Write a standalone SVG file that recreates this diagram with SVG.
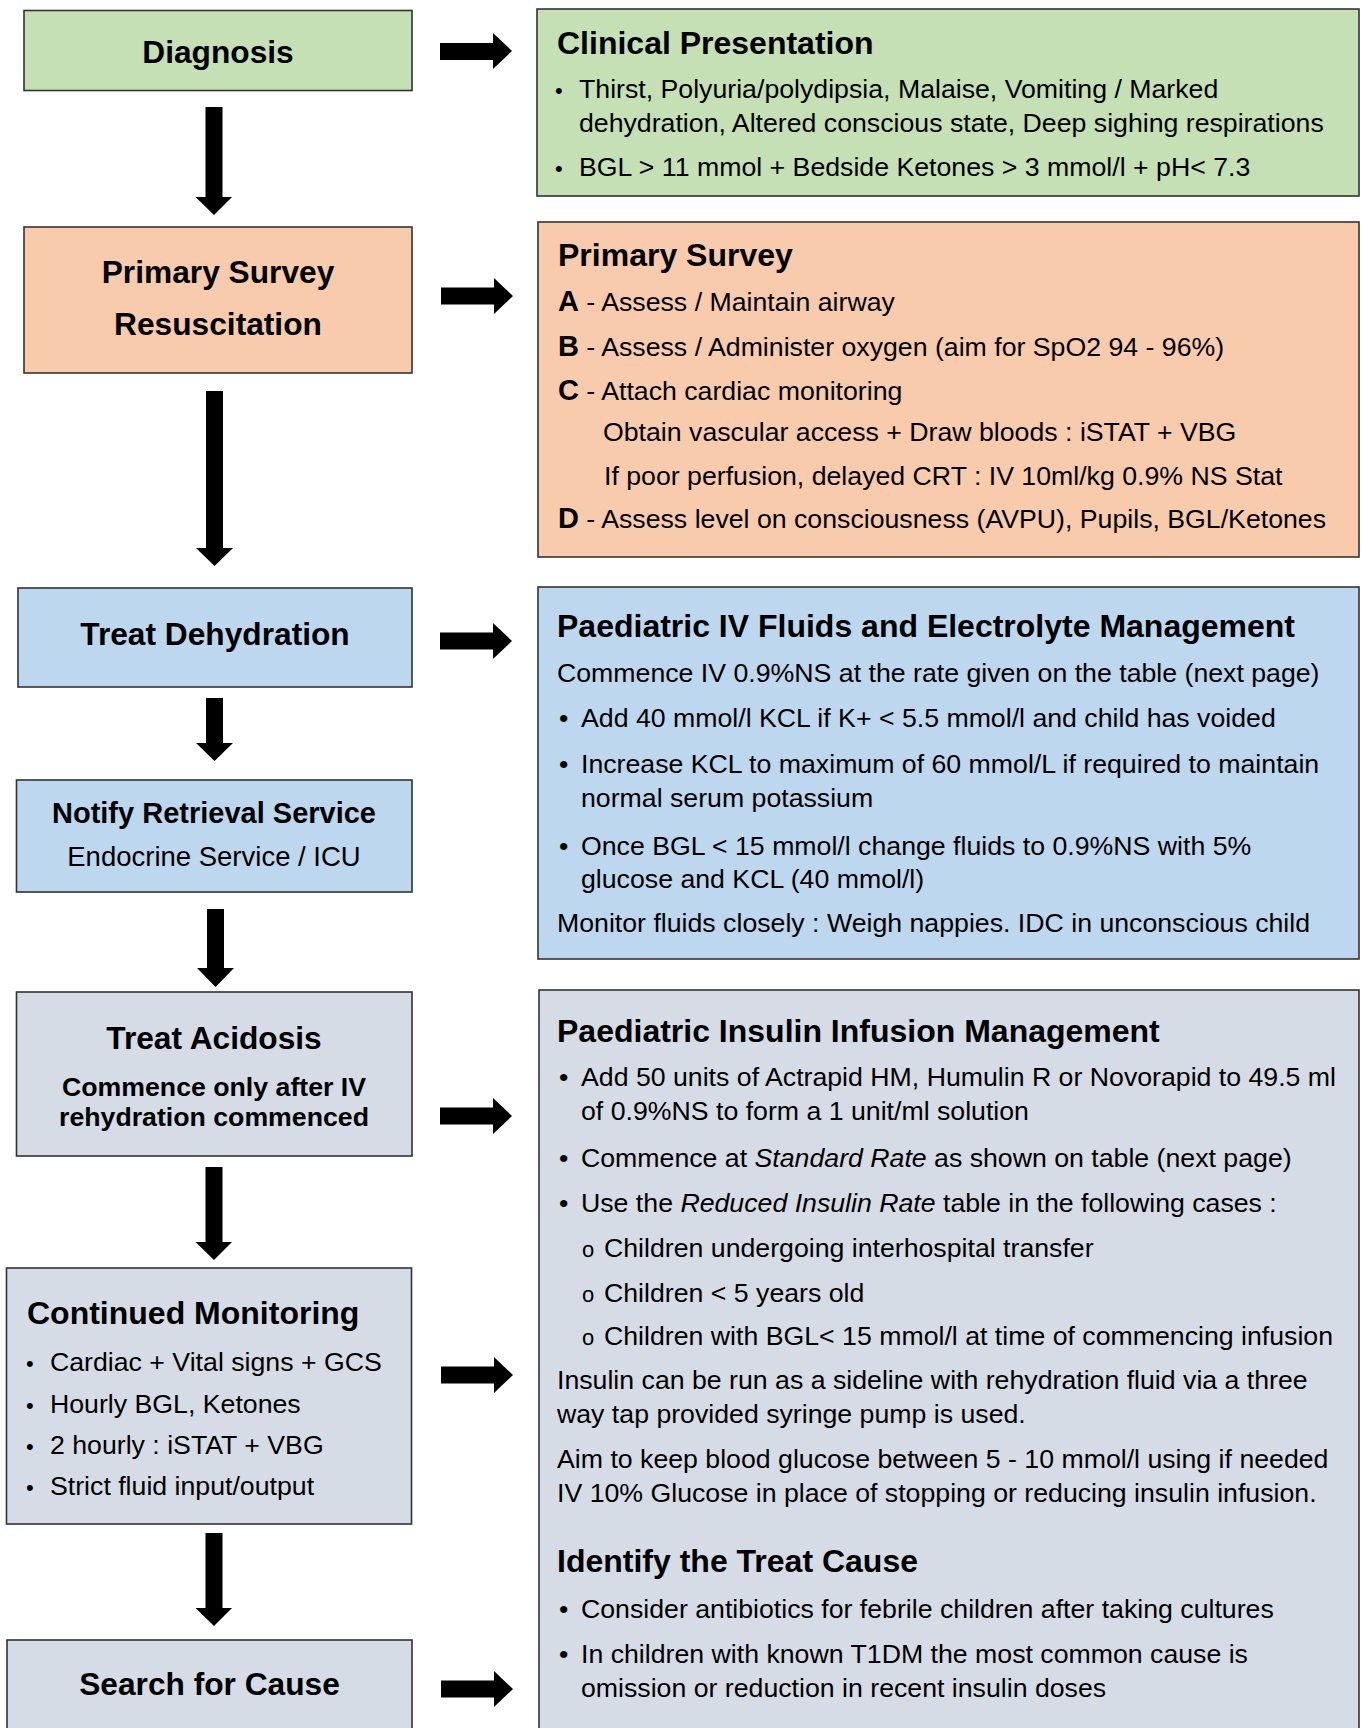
<svg xmlns="http://www.w3.org/2000/svg" width="1363" height="1728" viewBox="0 0 1363 1728">
<style>
text{font-family:"Liberation Sans",Arial,Helvetica,sans-serif;fill:#000}
.box{stroke:#333;stroke-width:1.6}
.green{fill:#c5e0b4}.orange{fill:#f8cbad}.blue{fill:#bdd7ee}.grey{fill:#d6dce5}
.h{font-size:32px;font-weight:bold}
.hc{font-size:31.7px;font-weight:bold;text-anchor:middle}
.s{font-size:26.7px;font-weight:bold;text-anchor:middle}
.b{font-size:26.7px}
.bl{font-size:29px;font-weight:bold}
.dot{font-size:22px}
.bul{font-size:26.7px}
.o{font-size:22px}
.arr{fill:#000}
</style>
<rect width="1363" height="1728" fill="#fff"/>

<g id="connectors">
<polygon class="arr" points="205.5,107 222.5,107 222.5,197 232,197 214,215 195.5,197 205.5,197"/>
<polygon class="arr" points="206,391 223,391 223,548 233,548 214.5,566 196,548 206,548"/>
<polygon class="arr" points="206,698 223,698 223,743 233,743 214.5,761 196,743 206,743"/>
<polygon class="arr" points="207,909 224,909 224,968 234,968 215.5,987 197,968 207,968"/>
<polygon class="arr" points="205.5,1167 222.5,1167 222.5,1242 232,1242 214,1260 195.5,1242 205.5,1242"/>
<polygon class="arr" points="205.5,1533 222.5,1533 222.5,1608 232,1608 214,1626 195.5,1608 205.5,1608"/>
<polygon class="arr" points="440,43 493,43 493,33 512,51 493,69 493,60 440,60"/>
<polygon class="arr" points="441,287.5 494,287.5 494,278 513,296 494,314 494,304.5 441,304.5"/>
<polygon class="arr" points="440,632.5 493,632.5 493,623 512,641 493,659 493,649.5 440,649.5"/>
<polygon class="arr" points="440,1107.5 493,1107.5 493,1098 512,1116 493,1134 493,1124.5 440,1124.5"/>
<polygon class="arr" points="441,1366.5 494,1366.5 494,1357 513,1375 494,1393 494,1383.5 441,1383.5"/>
<polygon class="arr" points="441,1680.5 494,1680.5 494,1671 513,1689 494,1707 494,1697.5 441,1697.5"/>
</g>

<g id="diagnosis">
<rect class="box green" x="24" y="10.5" width="388" height="80"/>
<text class="hc" x="218" y="63">Diagnosis</text>
</g>

<g id="primary-survey-resuscitation">
<rect class="box orange" x="24" y="227" width="388" height="146"/>
<text class="hc" x="218" y="283">Primary Survey</text>
<text class="hc" x="218" y="335">Resuscitation</text>
</g>

<g id="treat-dehydration">
<rect class="box blue" x="18" y="588" width="394" height="99"/>
<text class="hc" x="215" y="645">Treat Dehydration</text>
</g>

<g id="notify-retrieval">
<rect class="box blue" x="16.5" y="780" width="395.5" height="112"/>
<text x="214" y="823" style="font-size:29px;font-weight:bold;text-anchor:middle">Notify Retrieval Service</text>
<text x="214" y="866" style="font-size:27.5px;text-anchor:middle">Endocrine Service / ICU</text>
</g>

<g id="treat-acidosis">
<rect class="box grey" x="16.5" y="992" width="395.5" height="164"/>
<text class="hc" x="214" y="1049">Treat Acidosis</text>
<text class="s" x="214" y="1096">Commence only after IV</text>
<text class="s" x="214" y="1126">rehydration commenced</text>
</g>

<g id="continued-monitoring">
<rect class="box grey" x="6.5" y="1268" width="405" height="256"/>
<text class="h" x="27" y="1324">Continued Monitoring</text>
<text class="dot" x="26" y="1371">•</text><text class="b" x="50" y="1371">Cardiac + Vital signs + GCS</text>
<text class="dot" x="26" y="1413">•</text><text class="b" x="50" y="1413">Hourly BGL, Ketones</text>
<text class="dot" x="26" y="1454">•</text><text class="b" x="50" y="1454">2 hourly : iSTAT + VBG</text>
<text class="dot" x="26" y="1495">•</text><text class="b" x="50" y="1495">Strict fluid input/output</text>
</g>

<g id="search-for-cause">
<rect class="box grey" x="7" y="1640" width="405" height="120"/>
<text class="hc" x="209.5" y="1695">Search for Cause</text>
</g>

<g id="clinical-presentation">
<rect class="box green" x="537" y="9" width="822" height="187"/>
<text class="h" x="557" y="54">Clinical Presentation</text>
<text class="dot" x="555" y="98">•</text><text class="b" x="579" y="98">Thirst, Polyuria/polydipsia, Malaise, Vomiting / Marked</text>
<text class="b" x="579" y="132">dehydration, Altered conscious state, Deep sighing respirations</text>
<text class="dot" x="555" y="176">•</text><text class="b" x="579" y="176">BGL &gt; 11 mmol + Bedside Ketones &gt; 3 mmol/l + pH&lt; 7.3</text>
</g>

<g id="primary-survey">
<rect class="box orange" x="538" y="222" width="821" height="335"/>
<text class="h" x="558" y="266">Primary Survey</text>
<text class="b" x="558" y="311"><tspan class="bl">A</tspan> - Assess / Maintain airway</text>
<text class="b" x="558" y="356"><tspan class="bl">B</tspan> - Assess / Administer oxygen (aim for SpO2 94 - 96%)</text>
<text class="b" x="558" y="400"><tspan class="bl">C</tspan> - Attach cardiac monitoring</text>
<text class="b" x="603" y="441">Obtain vascular access + Draw bloods : iSTAT + VBG</text>
<text class="b" x="604" y="485">If poor perfusion, delayed CRT : IV 10ml/kg 0.9% NS Stat</text>
<text class="b" x="558" y="528"><tspan class="bl">D</tspan> - Assess level on consciousness (AVPU), Pupils, BGL/Ketones</text>
</g>

<g id="iv-fluids">
<rect class="box blue" x="538" y="587" width="821" height="372"/>
<text class="h" x="557" y="637">Paediatric IV Fluids and Electrolyte Management</text>
<text class="b" x="557" y="682">Commence IV 0.9%NS at the rate given on the table (next page)</text>
<text class="bul" x="559" y="727">•</text><text class="b" x="581" y="727">Add 40 mmol/l KCL if K+ &lt; 5.5 mmol/l and child has voided</text>
<text class="bul" x="559" y="773">•</text><text class="b" x="581" y="773">Increase KCL to maximum of 60 mmol/L if required to maintain</text>
<text class="b" x="581" y="807">normal serum potassium</text>
<text class="bul" x="559" y="855">•</text><text class="b" x="581" y="855">Once BGL &lt; 15 mmol/l change fluids to 0.9%NS with 5%</text>
<text class="b" x="581" y="888">glucose and KCL (40 mmol/l)</text>
<text class="b" x="557" y="932">Monitor fluids closely : Weigh nappies. IDC in unconscious child</text>
</g>

<g id="insulin-infusion">
<rect class="box grey" x="539" y="990" width="820" height="760"/>
<text class="h" x="557" y="1042">Paediatric Insulin Infusion Management</text>
<text class="bul" x="559" y="1086">•</text><text class="b" x="581" y="1086">Add 50 units of Actrapid HM, Humulin R or Novorapid to 49.5 ml</text>
<text class="b" x="581" y="1120">of 0.9%NS to form a 1 unit/ml solution</text>
<text class="bul" x="559" y="1167">•</text><text class="b" x="581" y="1167">Commence at <tspan font-style="italic">Standard Rate</tspan> as shown on table (next page)</text>
<text class="bul" x="559" y="1212">•</text><text class="b" x="581" y="1212">Use the <tspan font-style="italic">Reduced Insulin Rate</tspan> table in the following cases :</text>
<text class="o" x="582" y="1257">o</text><text class="b" x="604" y="1257">Children undergoing interhospital transfer</text>
<text class="o" x="582" y="1302">o</text><text class="b" x="604" y="1302">Children &lt; 5 years old</text>
<text class="o" x="582" y="1345">o</text><text class="b" x="604" y="1345">Children with BGL&lt; 15 mmol/l at time of commencing infusion</text>
<text class="b" x="557" y="1389">Insulin can be run as a sideline with rehydration fluid via a three</text>
<text class="b" x="557" y="1423">way tap provided syringe pump is used.</text>
<text class="b" x="557" y="1468">Aim to keep blood glucose between 5 - 10 mmol/l using if needed</text>
<text class="b" x="557" y="1502">IV 10% Glucose in place of stopping or reducing insulin infusion.</text>
<text class="h" x="557" y="1572">Identify the Treat Cause</text>
<text class="bul" x="559" y="1618">•</text><text class="b" x="581" y="1618">Consider antibiotics for febrile children after taking cultures</text>
<text class="bul" x="559" y="1663">•</text><text class="b" x="581" y="1663">In children with known T1DM the most common cause is</text>
<text class="b" x="581" y="1697">omission or reduction in recent insulin doses</text>
</g>
</svg>
